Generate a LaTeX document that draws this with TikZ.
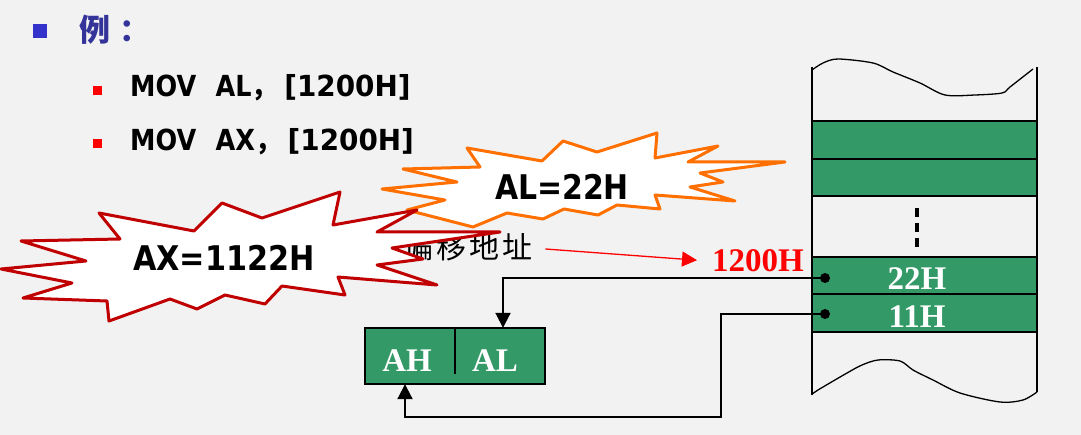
\documentclass[tikz,border=0pt]{standalone}
\usepackage{fontspec}
\setmainfont{Liberation Serif}
\newfontfamily\dvs{DejaVu Sans}
\newfontfamily\cjk{Noto Sans CJK SC}
\usetikzlibrary{arrows.meta}
\definecolor{bg}{RGB}{242,242,242}
\definecolor{memgreen}{RGB}{51,153,102}
\definecolor{burstred}{RGB}{192,0,0}
\definecolor{burstorange}{RGB}{255,112,0}
\definecolor{titleblue}{RGB}{51,51,153}
\definecolor{sqblue}{RGB}{51,51,204}
\tikzset{
  cell/.style={draw=black, line width=1.5pt, fill=memgreen, minimum width=225pt, minimum height=37pt, inner sep=0pt, text=white, font=\bfseries\fontsize{33}{33}\selectfont},
  regcell/.style={fill=memgreen, minimum width=90pt, minimum height=56pt, inner sep=0pt, text=white, font=\bfseries\fontsize{33}{33}\selectfont},
  memline/.style={line width=1.3pt, black},
  conn/.style={line width=2pt, black},
  dotnode/.style={circle, fill=black, inner sep=0pt, minimum size=10pt},
  burst/.style={line width=3pt, line join=round, fill=white},
  bigtxt/.style={inner sep=0pt, font=\dvs\bfseries\fontsize{34}{34}\selectfont},
  movtxt/.style={inner sep=0pt, anchor=base west, font=\dvs\bfseries\fontsize{29}{29}\selectfont},
  tip/.style={-{Triangle[length=15pt,width=15pt]}}
}
\begin{document}
\begin{tikzpicture}[x=1pt,y=-1pt]
\fill[bg] (0,0) rectangle (1081,435);
\useasboundingbox (0,0) rectangle (1081,435);

% title
\fill[sqblue] (33,24) rectangle (47,38);
\node[anchor=west, inner sep=0pt, text=titleblue, font=\cjk\bfseries\fontsize{31}{31}\selectfont] (title) at (79,30) {例\hspace{9pt}：};
\fill[red] (93,86) rectangle (102,95);
\fill[red] (93,139) rectangle (102,148);
\node[movtxt] (mov1) at (130,97) {\scalebox{0.88}[1]{MOV\hspace{22pt}AL{\cjk ，}\hspace{8pt}}\scalebox{0.96}[1]{[1200H]}};
\node[movtxt] (mov2) at (130,151) {\scalebox{0.88}[1]{MOV\hspace{22pt}AX{\cjk ，}\hspace{8pt}}\scalebox{0.96}[1]{[1200H]}};

% offset label
\node[anchor=west, inner sep=0pt, font=\cjk\fontsize{30}{30}\selectfont] (offs) at (403,247) {偏\hspace{3pt}移\hspace{3pt}地\hspace{3pt}址};

% orange burst
\draw[burst, draw=burstorange] (467,148) -- (542,161) -- (563,141) -- (597,152) -- (657,133) -- (655,158) -- (718,146) -- (688,162) -- (785,162) -- (700,173) -- (723,182) -- (690,187) -- (735,201) -- (655,195) -- (660,209) -- (617,205) -- (598,215) -- (564,209) -- (543,219) -- (507,213) -- (473,227) -- (407,210) -- (445,200) -- (382,189) -- (457,182) -- (403,169) -- (480,167) -- cycle;
\node[bigtxt, anchor=base] (al) at (562,200) {\scalebox{0.88}[1]{AL=22H}};

% red burst
\draw[burst, draw=burstred] (21,241) -- (120,239) -- (99,213) -- (194,231) -- (222,203) -- (262,218) -- (340,192) -- (333,225) -- (417,210) -- (377,232) -- (500,232) -- (392,248) -- (423,259) -- (377,265) -- (437,285) -- (338,277) -- (345,295) -- (282,286) -- (265,304) -- (225,295) -- (197,309) -- (170,299) -- (109,321) -- (107,301) -- (23,298) -- (72,283) -- (1,269) -- (86,261) -- cycle;
\node[bigtxt, anchor=base west] (ax) at (133,271) {\scalebox{0.89}[1]{AX=1122H}};

% address
\node[anchor=base west, inner sep=0pt, text=red, font=\bfseries\fontsize{33}{33}\selectfont] (addr) at (712,272) {1200H};
\draw[red, line width=1.3pt, tip] ([xshift=13pt,yshift=-2pt]offs.east) -- ([xshift=-15pt,yshift=1pt]addr.west);

% memory
\draw[memline] (812,67) -- (812,395);
\draw[memline] (1037,67) -- (1037,392);
\draw[memline] plot[smooth] coordinates {(812,70) (823,63) (838,59) (873,63) (893,72) (920,83) (945,95) (975,95) (1002,93) (1010,87) (1033,69)};
\draw[memline] plot[smooth] coordinates {(812,394) (818,390) (823,387) (847,373) (862,365) (878,360) (900,361) (913,370) (933,380) (960,393) (1000,402) (1023,400) (1037,392)};
\node[cell, minimum height=38pt] (memA) at (924.5,140) {};
\node[cell, minimum height=37pt] (memB) at (924.5,177.5) {};
\node[cell] (mem22) at (924.5,275.5) {};
\node[cell, minimum height=38pt] (mem11) at (924.5,313) {};
\node[anchor=base, inner sep=0pt, text=white, font=\bfseries\fontsize{33}{33}\selectfont] (t22) at (917,290) {22H};
\node[anchor=base, inner sep=0pt, text=white, font=\bfseries\fontsize{33}{33}\selectfont] (t11) at (917,327) {11H};
\draw[black, line width=4.5pt, dash pattern=on 9pt off 6pt] (917,208) -- (917,249);

% register
\node[regcell] (regAH) at (410,356) {};
\node[regcell] (regAL) at (500,356) {};
\draw[black, line width=1.5pt] (regAH.north west) rectangle (regAL.south east);
\draw[black, line width=1.5pt] (regAH.north east) -- ++(0,46);
\node[anchor=base, inner sep=0pt, text=white, font=\bfseries\fontsize{33}{33}\selectfont] (tAH) at (407,371) {AH};
\node[anchor=base, inner sep=0pt, text=white, font=\bfseries\fontsize{33}{33}\selectfont] (tAL) at (495,371) {AL};

% connectors
\node[dotnode] (d22) at (825,278) {};
\node[dotnode] (d11) at (825,314) {};
\coordinate (c2) at (721,417);
\draw[conn, tip] (d22.center) -| ([xshift=3pt]regAL.north);
\draw[conn, tip] (d11.center) -| (c2) -| ([xshift=-5pt]regAH.south);
\end{tikzpicture}
\end{document}
